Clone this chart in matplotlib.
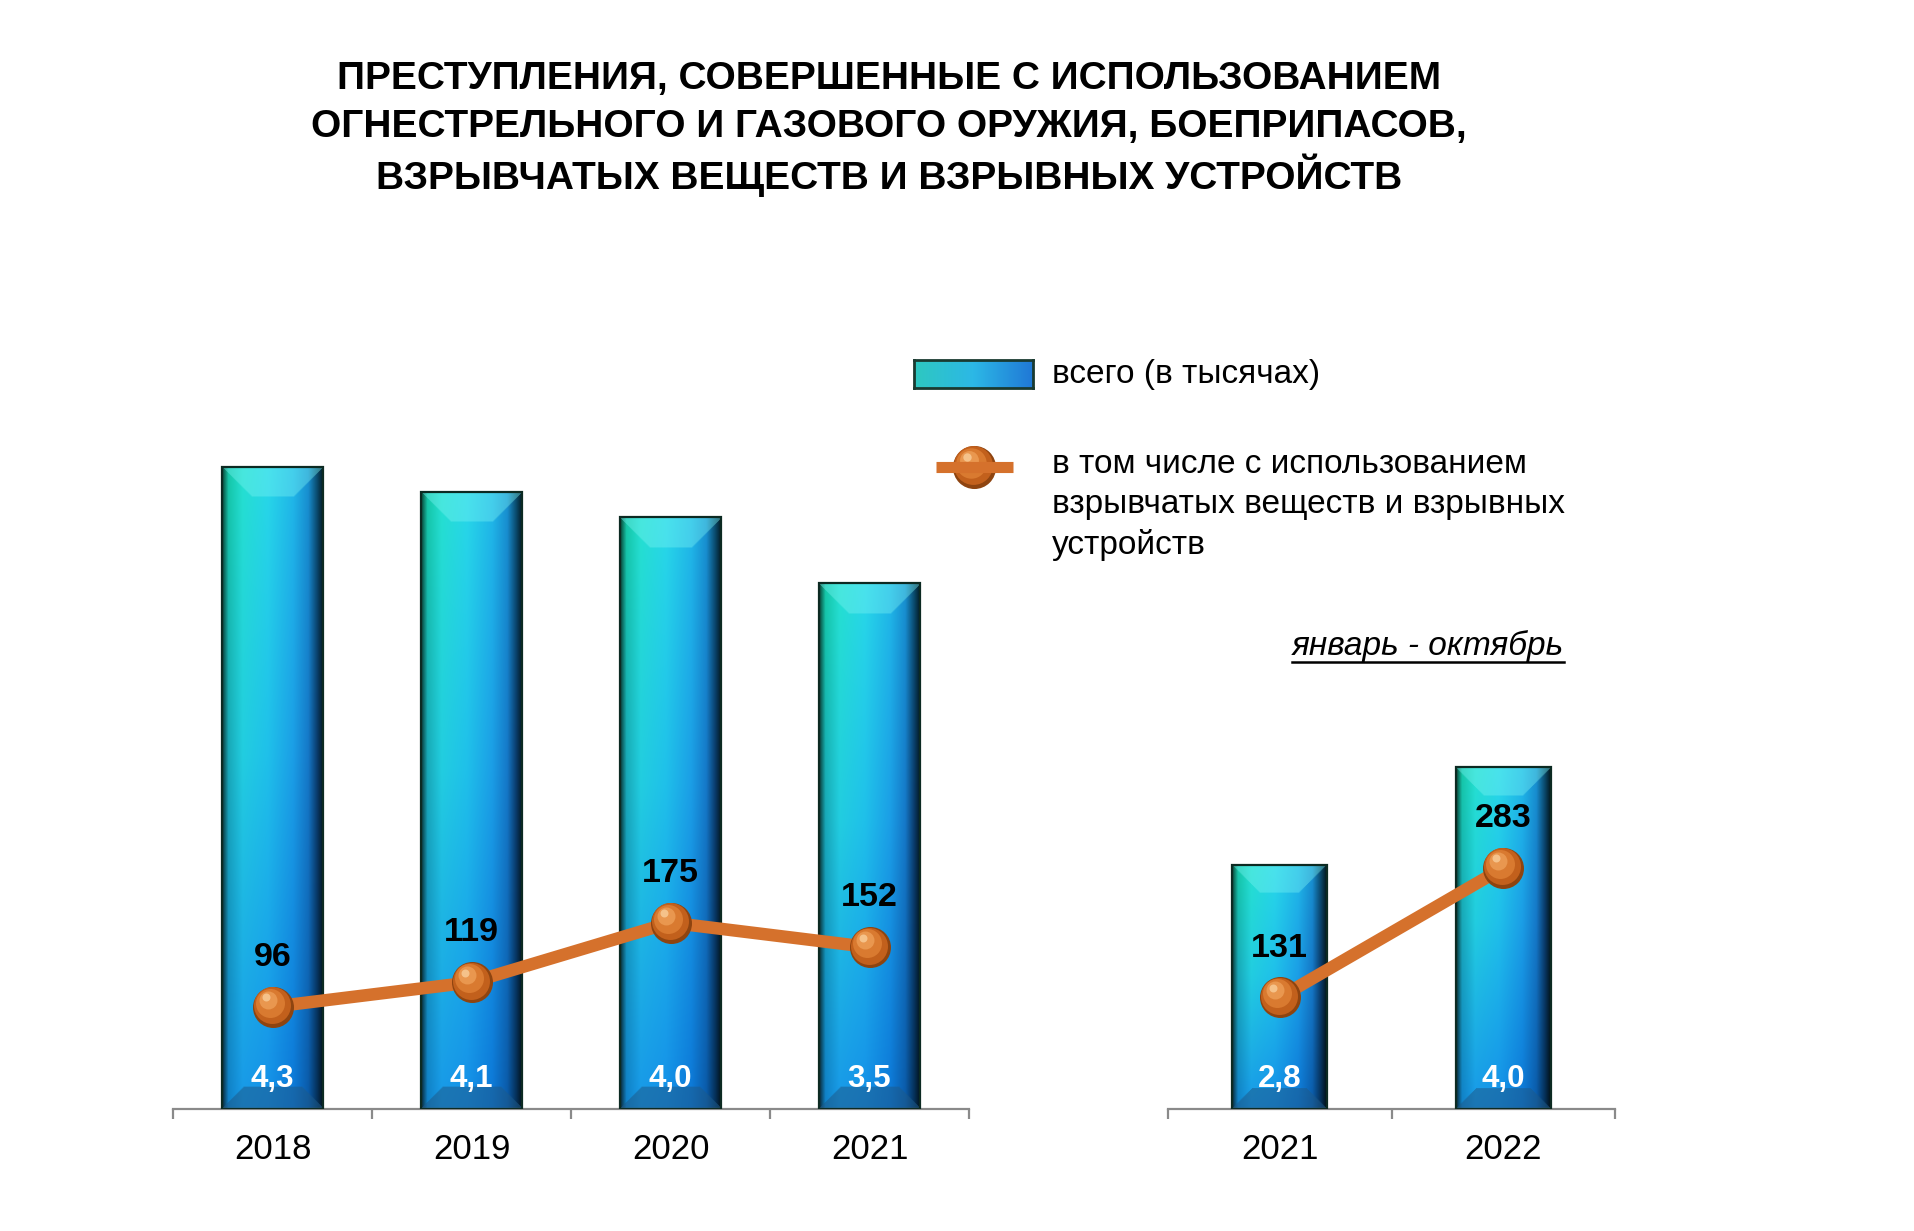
import numpy as np
import matplotlib
matplotlib.use('Agg')
import matplotlib.pyplot as plt
from matplotlib.patches import Rectangle
from matplotlib.lines import Line2D
from matplotlib.colors import to_rgb
from matplotlib.transforms import offset_copy

plt.rcParams['font.family'] = ['Liberation Sans', 'DejaVu Sans']

# --- data ---
years_full = ['2018', '2019', '2020', '2021']
total_full = [4.30, 4.13, 3.96, 3.52]        # всего, тыс. (labels rounded to 1 decimal)
explosive_full = [96, 119, 175, 152]
years_part = ['2021', '2022']
total_part = [2.83, 3.96]
explosive_part = [131, 283]

title_lines = ['ПРЕСТУПЛЕНИЯ, СОВЕРШЕННЫЕ С ИСПОЛЬЗОВАНИЕМ',
               'ОГНЕСТРЕЛЬНОГО И ГАЗОВОГО ОРУЖИЯ, БОЕПРИПАСОВ,',
               'ВЗРЫВЧАТЫХ ВЕЩЕСТВ И ВЗРЫВНЫХ УСТРОЙСТВ']
leg_bar = 'всего (в тысячах)'
leg_line = 'в том числе с использованием\nвзрывчатых веществ и взрывных\nустройств'
period = 'январь - октябрь'

W, H = 1914, 1231
DPI = 100
LINE_C = '#d5712c'

# horizontal colour stops for bar body (top / middle / bottom variants)
stops_u = [0.0, 0.06, 0.2, 0.45, 0.7, 0.85, 0.94, 1.0]
top_c = ['#0a4a3a', '#15c8a8', '#25e0d0', '#28d8e8', '#20b8e8', '#1890d0', '#0a4a6a', '#031820']
mid_c = ['#0b3b3b', '#18a8b8', '#22cde0', '#1fc0ea', '#1b9ee6', '#1578c8', '#0a3a6a', '#031820']
bot_c = ['#0a2a3a', '#1080c8', '#1898e8', '#1590e8', '#0c78d8', '#0a5aa8', '#053058', '#021018']


def profile(cols, n):
    u = np.linspace(0, 1, n)
    arr = np.array([to_rgb(c) for c in cols])
    return np.stack([np.interp(u, stops_u, arr[:, k]) for k in range(3)], axis=1)


def bar_image(w_px, h_px):
    nx = 100
    ny = max(int(round(nx * h_px / w_px)), 2)
    pt, pm, pb = profile(top_c, nx), profile(mid_c, nx), profile(bot_c, nx)
    v = np.linspace(0, 1, ny)[:, None, None]
    a = np.clip(v / 0.45, 0, 1)
    b = np.clip((v - 0.45) / 0.55, 0, 1)
    img = np.where(v < 0.45, pt[None] * (1 - a) + pm[None] * a, pm[None] * (1 - b) + pb[None] * b)
    rows = np.arange(ny)[:, None]
    cols = np.arange(nx)[None, :]
    # top bevel
    d = 30
    m = (rows < d) & (cols >= rows) & (cols <= nx - 1 - rows)
    light = np.array(to_rgb('#7af2f2'))
    img[m] = img[m] * 0.6 + light * 0.4
    # bottom bevel
    d2 = 22
    rb = ny - 1 - rows
    m2 = (rb < d2) & (cols >= rb) & (cols <= nx - 1 - rb)
    dark = np.array(to_rgb('#1d5a8a'))
    img[m2] = img[m2] * 0.45 + dark * 0.55
    return np.clip(img, 0, 1)


def sphere(ax, x, y, scale=1.0):
    layers = [(41, 0, 0, '#8e4410'), (37, -1, 1.5, '#c2601c'), (29, -3, 4, '#d97a30'),
              (18, -5, 7, '#e9974f'), (8, -7, 9.5, '#f5c28a')]
    for d, dx, dy, c in layers:
        tr = offset_copy(ax.transData, fig=ax.figure, x=dx * scale, y=dy * scale, units='dots')
        ax.plot(x, y, 'o', ms=d * scale * 72 / DPI, color=c, mec='none', transform=tr,
                zorder=6, clip_on=False)


def panel(rect, labels, totals, counts, bar_w, bar_ppu, line_ppu):
    ax = fig.add_axes(rect)
    n = len(labels)
    ax_h_px = rect[3] * H
    ax_w_px = rect[2] * W
    for i, val in enumerate(totals):
        w_px = bar_w * ax_w_px / n
        img = bar_image(w_px, val * bar_ppu)
        ax.imshow(img, extent=[i - bar_w / 2, i + bar_w / 2, 0, val], aspect='auto',
                  interpolation='bilinear', zorder=2)
        ax.add_patch(Rectangle((i - bar_w / 2, 0), bar_w, val, fill=False,
                               ec='#0c2a22', lw=1.6, zorder=3))
        ax.annotate(f'{val:.1f}'.replace('.', ','), (i, 0), xytext=(0, 21.5),
                    textcoords='offset points', ha='center', va='center', color='white',
                    fontsize=22.5, fontweight='bold', zorder=4)
    ax.set_xlim(-0.5, n - 0.5)
    ax.set_ylim(0, ax_h_px / bar_ppu)
    for s in ['left', 'right', 'top']:
        ax.spines[s].set_visible(False)
    ax.spines['bottom'].set_color('#8a8a8a')
    ax.spines['bottom'].set_linewidth(1.6)
    ax.set_yticks([])
    ax.set_xticks(range(n))
    ax.set_xticklabels(labels, fontsize=25)
    ax.set_xticks(np.arange(n + 1) - 0.5, minor=True)
    ax.tick_params(axis='x', which='major', length=0, pad=17.5)
    ax.tick_params(axis='x', which='minor', length=7, width=1.6, color='#8a8a8a')

    ax2 = ax.twinx()
    ax2.set_ylim(0, ax_h_px / line_ppu)
    ax2.set_axis_off()
    xs = np.arange(n)
    ax2.plot(xs, counts, color=LINE_C, lw=9, solid_capstyle='round', zorder=5)
    for x, c in zip(xs, counts):
        sphere(ax2, x, c)
        ax2.annotate(str(c), (x, c), xytext=(0, 35.5), textcoords='offset points',
                     ha='center', va='center', fontsize=24.5, fontweight='bold', color='black',
                     zorder=7)
    return ax


fig = plt.figure(figsize=(W / DPI, H / DPI), dpi=DPI)

base = (H - 1109) / H
ax_h = 760 / H
panel([173 / W, base, 796 / W, ax_h], years_full, total_full, explosive_full,
      0.51, 149.4, 1.065)
panel([1168 / W, base, 447 / W, ax_h], years_part, total_part, explosive_part,
      0.425, 86.3, 0.852)

for line, y in zip(title_lines, [79, 127, 175]):
    fig.text(889 / W, 1 - y / H, line, ha='center', va='center', fontsize=28,
             fontweight='bold')

# legend: bar swatch
lax = fig.add_axes([914 / W, 1 - 388 / H, 119 / W, 28 / H])
u = np.linspace(0, 1, 120)
c0, c1, c2 = [np.array(to_rgb(c)) for c in ('#2ec8c0', '#2cb8e6', '#2078d6')]
rowc = np.where(u[:, None] < 0.5, c0 * (1 - 2 * u[:, None]) + c1 * 2 * u[:, None],
                c1 * (2 - 2 * u[:, None]) + c2 * (2 * u[:, None] - 1))
lax.imshow(np.repeat(rowc[None], 10, axis=0), aspect='auto', interpolation='bilinear')
lax.set_xticks([])
lax.set_yticks([])
for s in lax.spines.values():
    s.set_color('#1a3a30')
    s.set_linewidth(2)
fig.text(1052 / W, 1 - 374 / H, leg_bar, ha='left', va='center', fontsize=24)

# legend: line + sphere
fig.add_artist(Line2D([936 / W, 1013 / W], [1 - 467 / H, 1 - 467 / H], color=LINE_C,
                      lw=8, solid_capstyle='butt'))
legax = fig.add_axes([0, 0, 1, 1], facecolor='none')
legax.set_xlim(0, W)
legax.set_ylim(H, 0)
legax.set_axis_off()
sphere(legax, 974, 467, scale=1.05)
fig.text(1052 / W, 1 - 505 / H, leg_line, ha='left', va='center', fontsize=24,
         linespacing=1.36)

t = fig.text(1428 / W, 1 - 646 / H, period, ha='center', va='center', fontsize=24,
             style='italic')
fig.canvas.draw()
bb = t.get_window_extent()
fig.add_artist(Line2D([bb.x0 / W, bb.x1 / W], [(H - 662) / H, (H - 662) / H],
                      color='black', lw=1.8))

fig.savefig('out.png', dpi=DPI)
